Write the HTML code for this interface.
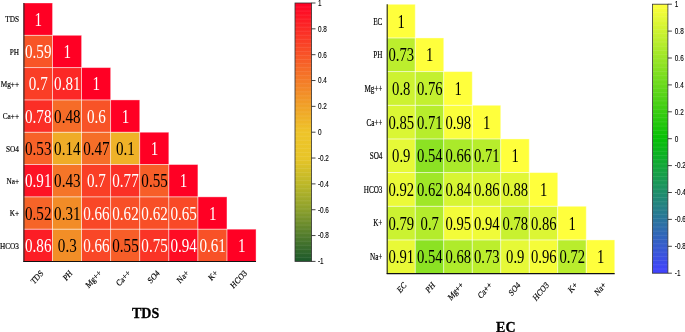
<!DOCTYPE html>
<html><head><meta charset="utf-8"><title>Correlation heatmaps</title>
<style>
html,body{margin:0;padding:0;background:#fff;}
body{width:685px;height:332px;overflow:hidden;}
svg{display:block;}
text{font-family:"Liberation Serif","Times New Roman",serif;}
text.a{font-family:"Liberation Sans",Arial,sans-serif;fill:#000;}
text.s{stroke:#000;stroke-width:0.18px;}
text.t{font-weight:bold;stroke:#000;stroke-width:0.3px;}
text.a{stroke:#000;stroke-width:0.12px;}
</style></head><body>
<svg width="685" height="332" viewBox="0 0 685 332">
<defs><linearGradient id="g0" x1="0" y1="0" x2="0" y2="1"><stop offset="0.000" stop-color="#ff0024"/><stop offset="0.250" stop-color="#f66828"/><stop offset="0.400" stop-color="#f0a127"/><stop offset="0.500" stop-color="#eec429"/><stop offset="0.600" stop-color="#e8c528"/><stop offset="0.700" stop-color="#bdb828"/><stop offset="0.800" stop-color="#8ca02c"/><stop offset="0.900" stop-color="#527c2c"/><stop offset="1.000" stop-color="#1b582a"/></linearGradient><linearGradient id="g1" x1="0" y1="0" x2="0" y2="1"><stop offset="0.000" stop-color="#ffff3c"/><stop offset="0.500" stop-color="#06c006"/><stop offset="1.000" stop-color="#4242ff"/></linearGradient></defs>
<rect width="685" height="332" fill="#fff"/>
<rect x="23.40" y="3.00" width="29.12" height="32.36" fill="#ff0024"/>
<rect x="23.40" y="35.31" width="29.12" height="32.36" fill="#f85527"/>
<rect x="52.47" y="35.31" width="29.12" height="32.36" fill="#ff0024"/>
<rect x="23.40" y="67.62" width="29.12" height="32.36" fill="#fa3e26"/>
<rect x="52.47" y="67.62" width="29.12" height="32.36" fill="#fc2826"/>
<rect x="81.55" y="67.62" width="29.12" height="32.36" fill="#ff0024"/>
<rect x="23.40" y="99.94" width="29.12" height="32.36" fill="#fb2e26"/>
<rect x="52.47" y="99.94" width="29.12" height="32.36" fill="#f66c28"/>
<rect x="81.55" y="99.94" width="29.12" height="32.36" fill="#f85327"/>
<rect x="110.62" y="99.94" width="29.12" height="32.36" fill="#ff0024"/>
<rect x="23.40" y="132.25" width="29.12" height="32.36" fill="#f76228"/>
<rect x="52.47" y="132.25" width="29.12" height="32.36" fill="#efac28"/>
<rect x="81.55" y="132.25" width="29.12" height="32.36" fill="#f56e28"/>
<rect x="110.62" y="132.25" width="29.12" height="32.36" fill="#efb228"/>
<rect x="139.70" y="132.25" width="29.12" height="32.36" fill="#ff0024"/>
<rect x="23.40" y="164.56" width="29.12" height="32.36" fill="#fd1325"/>
<rect x="52.47" y="164.56" width="29.12" height="32.36" fill="#f57528"/>
<rect x="81.55" y="164.56" width="29.12" height="32.36" fill="#fa3e26"/>
<rect x="110.62" y="164.56" width="29.12" height="32.36" fill="#fb3026"/>
<rect x="139.70" y="164.56" width="29.12" height="32.36" fill="#f75e28"/>
<rect x="168.78" y="164.56" width="29.12" height="32.36" fill="#ff0024"/>
<rect x="23.40" y="196.88" width="29.12" height="32.36" fill="#f66428"/>
<rect x="52.47" y="196.88" width="29.12" height="32.36" fill="#f28c27"/>
<rect x="81.55" y="196.88" width="29.12" height="32.36" fill="#f94727"/>
<rect x="110.62" y="196.88" width="29.12" height="32.36" fill="#f84f27"/>
<rect x="139.70" y="196.88" width="29.12" height="32.36" fill="#f84f27"/>
<rect x="168.78" y="196.88" width="29.12" height="32.36" fill="#f94927"/>
<rect x="197.85" y="196.88" width="29.12" height="32.36" fill="#ff0024"/>
<rect x="23.40" y="229.19" width="29.12" height="32.36" fill="#fc1d25"/>
<rect x="52.47" y="229.19" width="29.12" height="32.36" fill="#f28e27"/>
<rect x="81.55" y="229.19" width="29.12" height="32.36" fill="#f94727"/>
<rect x="110.62" y="229.19" width="29.12" height="32.36" fill="#f75e28"/>
<rect x="139.70" y="229.19" width="29.12" height="32.36" fill="#fa3426"/>
<rect x="168.78" y="229.19" width="29.12" height="32.36" fill="#fe0c24"/>
<rect x="197.85" y="229.19" width="29.12" height="32.36" fill="#f85127"/>
<rect x="226.93" y="229.19" width="29.12" height="32.36" fill="#ff0024"/>
<rect x="23.40" y="3.00" width="29.07" height="32.31" fill="none" stroke="#fff" stroke-opacity="0.42" stroke-width="0.85"/>
<rect x="23.40" y="35.31" width="29.07" height="32.31" fill="none" stroke="#fff" stroke-opacity="0.42" stroke-width="0.85"/>
<rect x="52.47" y="35.31" width="29.07" height="32.31" fill="none" stroke="#fff" stroke-opacity="0.42" stroke-width="0.85"/>
<rect x="23.40" y="67.62" width="29.07" height="32.31" fill="none" stroke="#fff" stroke-opacity="0.42" stroke-width="0.85"/>
<rect x="52.47" y="67.62" width="29.07" height="32.31" fill="none" stroke="#fff" stroke-opacity="0.42" stroke-width="0.85"/>
<rect x="81.55" y="67.62" width="29.07" height="32.31" fill="none" stroke="#fff" stroke-opacity="0.42" stroke-width="0.85"/>
<rect x="23.40" y="99.94" width="29.07" height="32.31" fill="none" stroke="#fff" stroke-opacity="0.42" stroke-width="0.85"/>
<rect x="52.47" y="99.94" width="29.07" height="32.31" fill="none" stroke="#fff" stroke-opacity="0.42" stroke-width="0.85"/>
<rect x="81.55" y="99.94" width="29.07" height="32.31" fill="none" stroke="#fff" stroke-opacity="0.42" stroke-width="0.85"/>
<rect x="110.62" y="99.94" width="29.07" height="32.31" fill="none" stroke="#fff" stroke-opacity="0.42" stroke-width="0.85"/>
<rect x="23.40" y="132.25" width="29.07" height="32.31" fill="none" stroke="#fff" stroke-opacity="0.42" stroke-width="0.85"/>
<rect x="52.47" y="132.25" width="29.07" height="32.31" fill="none" stroke="#fff" stroke-opacity="0.42" stroke-width="0.85"/>
<rect x="81.55" y="132.25" width="29.07" height="32.31" fill="none" stroke="#fff" stroke-opacity="0.42" stroke-width="0.85"/>
<rect x="110.62" y="132.25" width="29.07" height="32.31" fill="none" stroke="#fff" stroke-opacity="0.42" stroke-width="0.85"/>
<rect x="139.70" y="132.25" width="29.07" height="32.31" fill="none" stroke="#fff" stroke-opacity="0.42" stroke-width="0.85"/>
<rect x="23.40" y="164.56" width="29.07" height="32.31" fill="none" stroke="#fff" stroke-opacity="0.42" stroke-width="0.85"/>
<rect x="52.47" y="164.56" width="29.07" height="32.31" fill="none" stroke="#fff" stroke-opacity="0.42" stroke-width="0.85"/>
<rect x="81.55" y="164.56" width="29.07" height="32.31" fill="none" stroke="#fff" stroke-opacity="0.42" stroke-width="0.85"/>
<rect x="110.62" y="164.56" width="29.07" height="32.31" fill="none" stroke="#fff" stroke-opacity="0.42" stroke-width="0.85"/>
<rect x="139.70" y="164.56" width="29.07" height="32.31" fill="none" stroke="#fff" stroke-opacity="0.42" stroke-width="0.85"/>
<rect x="168.78" y="164.56" width="29.07" height="32.31" fill="none" stroke="#fff" stroke-opacity="0.42" stroke-width="0.85"/>
<rect x="23.40" y="196.88" width="29.07" height="32.31" fill="none" stroke="#fff" stroke-opacity="0.42" stroke-width="0.85"/>
<rect x="52.47" y="196.88" width="29.07" height="32.31" fill="none" stroke="#fff" stroke-opacity="0.42" stroke-width="0.85"/>
<rect x="81.55" y="196.88" width="29.07" height="32.31" fill="none" stroke="#fff" stroke-opacity="0.42" stroke-width="0.85"/>
<rect x="110.62" y="196.88" width="29.07" height="32.31" fill="none" stroke="#fff" stroke-opacity="0.42" stroke-width="0.85"/>
<rect x="139.70" y="196.88" width="29.07" height="32.31" fill="none" stroke="#fff" stroke-opacity="0.42" stroke-width="0.85"/>
<rect x="168.78" y="196.88" width="29.07" height="32.31" fill="none" stroke="#fff" stroke-opacity="0.42" stroke-width="0.85"/>
<rect x="197.85" y="196.88" width="29.07" height="32.31" fill="none" stroke="#fff" stroke-opacity="0.42" stroke-width="0.85"/>
<rect x="23.40" y="229.19" width="29.07" height="32.31" fill="none" stroke="#fff" stroke-opacity="0.42" stroke-width="0.85"/>
<rect x="52.47" y="229.19" width="29.07" height="32.31" fill="none" stroke="#fff" stroke-opacity="0.42" stroke-width="0.85"/>
<rect x="81.55" y="229.19" width="29.07" height="32.31" fill="none" stroke="#fff" stroke-opacity="0.42" stroke-width="0.85"/>
<rect x="110.62" y="229.19" width="29.07" height="32.31" fill="none" stroke="#fff" stroke-opacity="0.42" stroke-width="0.85"/>
<rect x="139.70" y="229.19" width="29.07" height="32.31" fill="none" stroke="#fff" stroke-opacity="0.42" stroke-width="0.85"/>
<rect x="168.78" y="229.19" width="29.07" height="32.31" fill="none" stroke="#fff" stroke-opacity="0.42" stroke-width="0.85"/>
<rect x="197.85" y="229.19" width="29.07" height="32.31" fill="none" stroke="#fff" stroke-opacity="0.42" stroke-width="0.85"/>
<rect x="226.93" y="229.19" width="29.07" height="32.31" fill="none" stroke="#fff" stroke-opacity="0.42" stroke-width="0.85"/>
<text class="n" transform="translate(38.24 19.56) scale(0.840 1)" font-size="18.00" fill="#fff" text-anchor="middle" y="6.08">1</text>
<text class="n" transform="translate(38.24 51.87) scale(0.840 1)" font-size="18.00" fill="#fff" text-anchor="middle" y="6.08">0.59</text>
<text class="n" transform="translate(67.31 51.87) scale(0.840 1)" font-size="18.00" fill="#fff" text-anchor="middle" y="6.08">1</text>
<text class="n" transform="translate(38.24 84.18) scale(0.840 1)" font-size="18.00" fill="#fff" text-anchor="middle" y="6.08">0.7</text>
<text class="n" transform="translate(67.31 84.18) scale(0.840 1)" font-size="18.00" fill="#fff" text-anchor="middle" y="6.08">0.81</text>
<text class="n" transform="translate(96.39 84.18) scale(0.840 1)" font-size="18.00" fill="#fff" text-anchor="middle" y="6.08">1</text>
<text class="n" transform="translate(38.24 116.49) scale(0.840 1)" font-size="18.00" fill="#fff" text-anchor="middle" y="6.08">0.78</text>
<text class="n" transform="translate(67.31 116.49) scale(0.840 1)" font-size="18.00" fill="#000" text-anchor="middle" y="6.08">0.48</text>
<text class="n" transform="translate(96.39 116.49) scale(0.840 1)" font-size="18.00" fill="#fff" text-anchor="middle" y="6.08">0.6</text>
<text class="n" transform="translate(125.46 116.49) scale(0.840 1)" font-size="18.00" fill="#fff" text-anchor="middle" y="6.08">1</text>
<text class="n" transform="translate(38.24 148.81) scale(0.840 1)" font-size="18.00" fill="#000" text-anchor="middle" y="6.08">0.53</text>
<text class="n" transform="translate(67.31 148.81) scale(0.840 1)" font-size="18.00" fill="#000" text-anchor="middle" y="6.08">0.14</text>
<text class="n" transform="translate(96.39 148.81) scale(0.840 1)" font-size="18.00" fill="#000" text-anchor="middle" y="6.08">0.47</text>
<text class="n" transform="translate(125.46 148.81) scale(0.840 1)" font-size="18.00" fill="#000" text-anchor="middle" y="6.08">0.1</text>
<text class="n" transform="translate(154.54 148.81) scale(0.840 1)" font-size="18.00" fill="#fff" text-anchor="middle" y="6.08">1</text>
<text class="n" transform="translate(38.24 181.12) scale(0.840 1)" font-size="18.00" fill="#fff" text-anchor="middle" y="6.08">0.91</text>
<text class="n" transform="translate(67.31 181.12) scale(0.840 1)" font-size="18.00" fill="#000" text-anchor="middle" y="6.08">0.43</text>
<text class="n" transform="translate(96.39 181.12) scale(0.840 1)" font-size="18.00" fill="#fff" text-anchor="middle" y="6.08">0.7</text>
<text class="n" transform="translate(125.46 181.12) scale(0.840 1)" font-size="18.00" fill="#fff" text-anchor="middle" y="6.08">0.77</text>
<text class="n" transform="translate(154.54 181.12) scale(0.840 1)" font-size="18.00" fill="#000" text-anchor="middle" y="6.08">0.55</text>
<text class="n" transform="translate(183.61 181.12) scale(0.840 1)" font-size="18.00" fill="#fff" text-anchor="middle" y="6.08">1</text>
<text class="n" transform="translate(38.24 213.43) scale(0.840 1)" font-size="18.00" fill="#000" text-anchor="middle" y="6.08">0.52</text>
<text class="n" transform="translate(67.31 213.43) scale(0.840 1)" font-size="18.00" fill="#000" text-anchor="middle" y="6.08">0.31</text>
<text class="n" transform="translate(96.39 213.43) scale(0.840 1)" font-size="18.00" fill="#fff" text-anchor="middle" y="6.08">0.66</text>
<text class="n" transform="translate(125.46 213.43) scale(0.840 1)" font-size="18.00" fill="#fff" text-anchor="middle" y="6.08">0.62</text>
<text class="n" transform="translate(154.54 213.43) scale(0.840 1)" font-size="18.00" fill="#fff" text-anchor="middle" y="6.08">0.62</text>
<text class="n" transform="translate(183.61 213.43) scale(0.840 1)" font-size="18.00" fill="#fff" text-anchor="middle" y="6.08">0.65</text>
<text class="n" transform="translate(212.69 213.43) scale(0.840 1)" font-size="18.00" fill="#fff" text-anchor="middle" y="6.08">1</text>
<text class="n" transform="translate(38.24 245.74) scale(0.840 1)" font-size="18.00" fill="#fff" text-anchor="middle" y="6.08">0.86</text>
<text class="n" transform="translate(67.31 245.74) scale(0.840 1)" font-size="18.00" fill="#000" text-anchor="middle" y="6.08">0.3</text>
<text class="n" transform="translate(96.39 245.74) scale(0.840 1)" font-size="18.00" fill="#fff" text-anchor="middle" y="6.08">0.66</text>
<text class="n" transform="translate(125.46 245.74) scale(0.840 1)" font-size="18.00" fill="#000" text-anchor="middle" y="6.08">0.55</text>
<text class="n" transform="translate(154.54 245.74) scale(0.840 1)" font-size="18.00" fill="#fff" text-anchor="middle" y="6.08">0.75</text>
<text class="n" transform="translate(183.61 245.74) scale(0.840 1)" font-size="18.00" fill="#fff" text-anchor="middle" y="6.08">0.94</text>
<text class="n" transform="translate(212.69 245.74) scale(0.840 1)" font-size="18.00" fill="#fff" text-anchor="middle" y="6.08">0.61</text>
<text class="n" transform="translate(241.76 245.74) scale(0.840 1)" font-size="18.00" fill="#fff" text-anchor="middle" y="6.08">1</text>
<line x1="23.90" y1="3.00" x2="23.90" y2="262.00" stroke="#222" stroke-width="1.1"/>
<line x1="23.40" y1="261.50" x2="256.00" y2="261.50" stroke="#111" stroke-width="1.1"/>
<text class="s" transform="translate(19.00 19.46) scale(0.810 1)" font-size="9.00" text-anchor="end" y="2.98">TDS</text>
<text class="s" transform="translate(19.00 51.77) scale(0.810 1)" font-size="9.00" text-anchor="end" y="2.98">PH</text>
<text class="s" transform="translate(19.00 84.08) scale(0.810 1)" font-size="9.00" text-anchor="end" y="2.98">Mg++</text>
<text class="s" transform="translate(19.00 116.39) scale(0.810 1)" font-size="9.00" text-anchor="end" y="2.98">Ca++</text>
<text class="s" transform="translate(19.00 148.71) scale(0.810 1)" font-size="9.00" text-anchor="end" y="2.98">SO4</text>
<text class="s" transform="translate(19.00 181.02) scale(0.810 1)" font-size="9.00" text-anchor="end" y="2.98">Na+</text>
<text class="s" transform="translate(19.00 213.33) scale(0.810 1)" font-size="9.00" text-anchor="end" y="2.98">K+</text>
<text class="s" transform="translate(19.00 245.64) scale(0.810 1)" font-size="9.00" text-anchor="end" y="2.98">HCO3</text>
<text class="s" transform="translate(43.84 273.70) scale(0.900 1) rotate(-45) scale(0.920 1)" font-size="9.00" text-anchor="end">TDS</text>
<text class="s" transform="translate(72.91 273.70) scale(0.900 1) rotate(-45) scale(0.920 1)" font-size="9.00" text-anchor="end">PH</text>
<text class="s" transform="translate(101.99 273.70) scale(0.900 1) rotate(-45) scale(0.920 1)" font-size="9.00" text-anchor="end">Mg++</text>
<text class="s" transform="translate(131.06 273.70) scale(0.900 1) rotate(-45) scale(0.920 1)" font-size="9.00" text-anchor="end">Ca++</text>
<text class="s" transform="translate(160.14 273.70) scale(0.900 1) rotate(-45) scale(0.920 1)" font-size="9.00" text-anchor="end">SO4</text>
<text class="s" transform="translate(189.21 273.70) scale(0.900 1) rotate(-45) scale(0.920 1)" font-size="9.00" text-anchor="end">Na+</text>
<text class="s" transform="translate(218.29 273.70) scale(0.900 1) rotate(-45) scale(0.920 1)" font-size="9.00" text-anchor="end">K+</text>
<text class="s" transform="translate(247.36 273.70) scale(0.900 1) rotate(-45) scale(0.920 1)" font-size="9.00" text-anchor="end">HCO3</text>
<rect x="295.00" y="3.00" width="16.60" height="258.40" fill="url(#g0)" stroke="#333" stroke-width="0.8"/>
<line x1="295.40" y1="7.04" x2="311.20" y2="7.04" stroke="#fff" stroke-opacity="0.13" stroke-width="0.7"/>
<line x1="295.40" y1="11.07" x2="311.20" y2="11.07" stroke="#fff" stroke-opacity="0.13" stroke-width="0.7"/>
<line x1="295.40" y1="15.11" x2="311.20" y2="15.11" stroke="#fff" stroke-opacity="0.13" stroke-width="0.7"/>
<line x1="295.40" y1="19.15" x2="311.20" y2="19.15" stroke="#fff" stroke-opacity="0.13" stroke-width="0.7"/>
<line x1="295.40" y1="23.19" x2="311.20" y2="23.19" stroke="#fff" stroke-opacity="0.13" stroke-width="0.7"/>
<line x1="295.40" y1="27.22" x2="311.20" y2="27.22" stroke="#fff" stroke-opacity="0.13" stroke-width="0.7"/>
<line x1="295.40" y1="31.26" x2="311.20" y2="31.26" stroke="#fff" stroke-opacity="0.13" stroke-width="0.7"/>
<line x1="295.40" y1="35.30" x2="311.20" y2="35.30" stroke="#fff" stroke-opacity="0.13" stroke-width="0.7"/>
<line x1="295.40" y1="39.34" x2="311.20" y2="39.34" stroke="#fff" stroke-opacity="0.13" stroke-width="0.7"/>
<line x1="295.40" y1="43.38" x2="311.20" y2="43.38" stroke="#fff" stroke-opacity="0.13" stroke-width="0.7"/>
<line x1="295.40" y1="47.41" x2="311.20" y2="47.41" stroke="#fff" stroke-opacity="0.13" stroke-width="0.7"/>
<line x1="295.40" y1="51.45" x2="311.20" y2="51.45" stroke="#fff" stroke-opacity="0.13" stroke-width="0.7"/>
<line x1="295.40" y1="55.49" x2="311.20" y2="55.49" stroke="#fff" stroke-opacity="0.13" stroke-width="0.7"/>
<line x1="295.40" y1="59.52" x2="311.20" y2="59.52" stroke="#fff" stroke-opacity="0.13" stroke-width="0.7"/>
<line x1="295.40" y1="63.56" x2="311.20" y2="63.56" stroke="#fff" stroke-opacity="0.13" stroke-width="0.7"/>
<line x1="295.40" y1="67.60" x2="311.20" y2="67.60" stroke="#fff" stroke-opacity="0.13" stroke-width="0.7"/>
<line x1="295.40" y1="71.64" x2="311.20" y2="71.64" stroke="#fff" stroke-opacity="0.13" stroke-width="0.7"/>
<line x1="295.40" y1="75.67" x2="311.20" y2="75.67" stroke="#fff" stroke-opacity="0.13" stroke-width="0.7"/>
<line x1="295.40" y1="79.71" x2="311.20" y2="79.71" stroke="#fff" stroke-opacity="0.13" stroke-width="0.7"/>
<line x1="295.40" y1="83.75" x2="311.20" y2="83.75" stroke="#fff" stroke-opacity="0.13" stroke-width="0.7"/>
<line x1="295.40" y1="87.79" x2="311.20" y2="87.79" stroke="#fff" stroke-opacity="0.13" stroke-width="0.7"/>
<line x1="295.40" y1="91.82" x2="311.20" y2="91.82" stroke="#fff" stroke-opacity="0.13" stroke-width="0.7"/>
<line x1="295.40" y1="95.86" x2="311.20" y2="95.86" stroke="#fff" stroke-opacity="0.13" stroke-width="0.7"/>
<line x1="295.40" y1="99.90" x2="311.20" y2="99.90" stroke="#fff" stroke-opacity="0.13" stroke-width="0.7"/>
<line x1="295.40" y1="103.94" x2="311.20" y2="103.94" stroke="#fff" stroke-opacity="0.13" stroke-width="0.7"/>
<line x1="295.40" y1="107.97" x2="311.20" y2="107.97" stroke="#fff" stroke-opacity="0.13" stroke-width="0.7"/>
<line x1="295.40" y1="112.01" x2="311.20" y2="112.01" stroke="#fff" stroke-opacity="0.13" stroke-width="0.7"/>
<line x1="295.40" y1="116.05" x2="311.20" y2="116.05" stroke="#fff" stroke-opacity="0.13" stroke-width="0.7"/>
<line x1="295.40" y1="120.09" x2="311.20" y2="120.09" stroke="#fff" stroke-opacity="0.13" stroke-width="0.7"/>
<line x1="295.40" y1="124.12" x2="311.20" y2="124.12" stroke="#fff" stroke-opacity="0.13" stroke-width="0.7"/>
<line x1="295.40" y1="128.16" x2="311.20" y2="128.16" stroke="#fff" stroke-opacity="0.13" stroke-width="0.7"/>
<line x1="295.40" y1="132.20" x2="311.20" y2="132.20" stroke="#fff" stroke-opacity="0.13" stroke-width="0.7"/>
<line x1="295.40" y1="136.24" x2="311.20" y2="136.24" stroke="#fff" stroke-opacity="0.13" stroke-width="0.7"/>
<line x1="295.40" y1="140.27" x2="311.20" y2="140.27" stroke="#fff" stroke-opacity="0.13" stroke-width="0.7"/>
<line x1="295.40" y1="144.31" x2="311.20" y2="144.31" stroke="#fff" stroke-opacity="0.13" stroke-width="0.7"/>
<line x1="295.40" y1="148.35" x2="311.20" y2="148.35" stroke="#fff" stroke-opacity="0.13" stroke-width="0.7"/>
<line x1="295.40" y1="152.39" x2="311.20" y2="152.39" stroke="#fff" stroke-opacity="0.13" stroke-width="0.7"/>
<line x1="295.40" y1="156.42" x2="311.20" y2="156.42" stroke="#fff" stroke-opacity="0.13" stroke-width="0.7"/>
<line x1="295.40" y1="160.46" x2="311.20" y2="160.46" stroke="#fff" stroke-opacity="0.13" stroke-width="0.7"/>
<line x1="295.40" y1="164.50" x2="311.20" y2="164.50" stroke="#fff" stroke-opacity="0.13" stroke-width="0.7"/>
<line x1="295.40" y1="168.54" x2="311.20" y2="168.54" stroke="#fff" stroke-opacity="0.13" stroke-width="0.7"/>
<line x1="295.40" y1="172.57" x2="311.20" y2="172.57" stroke="#fff" stroke-opacity="0.13" stroke-width="0.7"/>
<line x1="295.40" y1="176.61" x2="311.20" y2="176.61" stroke="#fff" stroke-opacity="0.13" stroke-width="0.7"/>
<line x1="295.40" y1="180.65" x2="311.20" y2="180.65" stroke="#fff" stroke-opacity="0.13" stroke-width="0.7"/>
<line x1="295.40" y1="184.69" x2="311.20" y2="184.69" stroke="#fff" stroke-opacity="0.13" stroke-width="0.7"/>
<line x1="295.40" y1="188.72" x2="311.20" y2="188.72" stroke="#fff" stroke-opacity="0.13" stroke-width="0.7"/>
<line x1="295.40" y1="192.76" x2="311.20" y2="192.76" stroke="#fff" stroke-opacity="0.13" stroke-width="0.7"/>
<line x1="295.40" y1="196.80" x2="311.20" y2="196.80" stroke="#fff" stroke-opacity="0.13" stroke-width="0.7"/>
<line x1="295.40" y1="200.84" x2="311.20" y2="200.84" stroke="#fff" stroke-opacity="0.13" stroke-width="0.7"/>
<line x1="295.40" y1="204.87" x2="311.20" y2="204.87" stroke="#fff" stroke-opacity="0.13" stroke-width="0.7"/>
<line x1="295.40" y1="208.91" x2="311.20" y2="208.91" stroke="#fff" stroke-opacity="0.13" stroke-width="0.7"/>
<line x1="295.40" y1="212.95" x2="311.20" y2="212.95" stroke="#fff" stroke-opacity="0.13" stroke-width="0.7"/>
<line x1="295.40" y1="216.99" x2="311.20" y2="216.99" stroke="#fff" stroke-opacity="0.13" stroke-width="0.7"/>
<line x1="295.40" y1="221.02" x2="311.20" y2="221.02" stroke="#fff" stroke-opacity="0.13" stroke-width="0.7"/>
<line x1="295.40" y1="225.06" x2="311.20" y2="225.06" stroke="#fff" stroke-opacity="0.13" stroke-width="0.7"/>
<line x1="295.40" y1="229.10" x2="311.20" y2="229.10" stroke="#fff" stroke-opacity="0.13" stroke-width="0.7"/>
<line x1="295.40" y1="233.14" x2="311.20" y2="233.14" stroke="#fff" stroke-opacity="0.13" stroke-width="0.7"/>
<line x1="295.40" y1="237.17" x2="311.20" y2="237.17" stroke="#fff" stroke-opacity="0.13" stroke-width="0.7"/>
<line x1="295.40" y1="241.21" x2="311.20" y2="241.21" stroke="#fff" stroke-opacity="0.13" stroke-width="0.7"/>
<line x1="295.40" y1="245.25" x2="311.20" y2="245.25" stroke="#fff" stroke-opacity="0.13" stroke-width="0.7"/>
<line x1="295.40" y1="249.29" x2="311.20" y2="249.29" stroke="#fff" stroke-opacity="0.13" stroke-width="0.7"/>
<line x1="295.40" y1="253.32" x2="311.20" y2="253.32" stroke="#fff" stroke-opacity="0.13" stroke-width="0.7"/>
<line x1="295.40" y1="257.36" x2="311.20" y2="257.36" stroke="#fff" stroke-opacity="0.13" stroke-width="0.7"/>
<line x1="311.60" y1="3.00" x2="315.50" y2="3.00" stroke="#222" stroke-width="0.85"/>
<text class="a" transform="translate(317.90 5.85) scale(0.78 1)" font-size="8.2">1</text>
<line x1="311.60" y1="28.84" x2="315.50" y2="28.84" stroke="#222" stroke-width="0.85"/>
<text class="a" transform="translate(317.90 31.69) scale(0.78 1)" font-size="8.2">0.8</text>
<line x1="311.60" y1="54.68" x2="315.50" y2="54.68" stroke="#222" stroke-width="0.85"/>
<text class="a" transform="translate(317.90 57.53) scale(0.78 1)" font-size="8.2">0.6</text>
<line x1="311.60" y1="80.52" x2="315.50" y2="80.52" stroke="#222" stroke-width="0.85"/>
<text class="a" transform="translate(317.90 83.37) scale(0.78 1)" font-size="8.2">0.4</text>
<line x1="311.60" y1="106.36" x2="315.50" y2="106.36" stroke="#222" stroke-width="0.85"/>
<text class="a" transform="translate(317.90 109.21) scale(0.78 1)" font-size="8.2">0.2</text>
<line x1="311.60" y1="132.20" x2="315.50" y2="132.20" stroke="#222" stroke-width="0.85"/>
<text class="a" transform="translate(317.90 135.05) scale(0.78 1)" font-size="8.2">0</text>
<line x1="311.60" y1="158.04" x2="315.50" y2="158.04" stroke="#222" stroke-width="0.85"/>
<text class="a" transform="translate(317.90 160.89) scale(0.78 1)" font-size="8.2">-0.2</text>
<line x1="311.60" y1="183.88" x2="315.50" y2="183.88" stroke="#222" stroke-width="0.85"/>
<text class="a" transform="translate(317.90 186.73) scale(0.78 1)" font-size="8.2">-0.4</text>
<line x1="311.60" y1="209.72" x2="315.50" y2="209.72" stroke="#222" stroke-width="0.85"/>
<text class="a" transform="translate(317.90 212.57) scale(0.78 1)" font-size="8.2">-0.6</text>
<line x1="311.60" y1="235.56" x2="315.50" y2="235.56" stroke="#222" stroke-width="0.85"/>
<text class="a" transform="translate(317.90 238.41) scale(0.78 1)" font-size="8.2">-0.8</text>
<line x1="311.60" y1="261.40" x2="315.50" y2="261.40" stroke="#222" stroke-width="0.85"/>
<text class="a" transform="translate(317.90 264.25) scale(0.78 1)" font-size="8.2">-1</text>
<text class="t" transform="translate(145.60 317.70) scale(0.970 1)" font-size="14.5" text-anchor="middle">TDS</text>
<rect x="386.70" y="4.30" width="28.55" height="33.71" fill="#ffff3c"/>
<rect x="386.70" y="37.96" width="28.55" height="33.71" fill="#bcee2d"/>
<rect x="415.20" y="37.96" width="28.55" height="33.71" fill="#ffff3c"/>
<rect x="386.70" y="71.62" width="28.55" height="33.71" fill="#cdf231"/>
<rect x="415.20" y="71.62" width="28.55" height="33.71" fill="#c3f02f"/>
<rect x="443.70" y="71.62" width="28.55" height="33.71" fill="#ffff3c"/>
<rect x="386.70" y="105.29" width="28.55" height="33.71" fill="#daf634"/>
<rect x="415.20" y="105.29" width="28.55" height="33.71" fill="#b7ed2c"/>
<rect x="443.70" y="105.29" width="28.55" height="33.71" fill="#fafe3b"/>
<rect x="472.20" y="105.29" width="28.55" height="33.71" fill="#ffff3c"/>
<rect x="386.70" y="138.95" width="28.55" height="33.71" fill="#e6f937"/>
<rect x="415.20" y="138.95" width="28.55" height="33.71" fill="#8ce223"/>
<rect x="443.70" y="138.95" width="28.55" height="33.71" fill="#aaea2a"/>
<rect x="472.20" y="138.95" width="28.55" height="33.71" fill="#b7ed2c"/>
<rect x="500.70" y="138.95" width="28.55" height="33.71" fill="#ffff3c"/>
<rect x="386.70" y="172.61" width="28.55" height="33.71" fill="#ebfa38"/>
<rect x="415.20" y="172.61" width="28.55" height="33.71" fill="#a0e727"/>
<rect x="443.70" y="172.61" width="28.55" height="33.71" fill="#d7f533"/>
<rect x="472.20" y="172.61" width="28.55" height="33.71" fill="#dcf634"/>
<rect x="500.70" y="172.61" width="28.55" height="33.71" fill="#e1f736"/>
<rect x="529.20" y="172.61" width="28.55" height="33.71" fill="#ffff3c"/>
<rect x="386.70" y="206.28" width="28.55" height="33.71" fill="#cbf231"/>
<rect x="415.20" y="206.28" width="28.55" height="33.71" fill="#b4ec2c"/>
<rect x="443.70" y="206.28" width="28.55" height="33.71" fill="#f3fc39"/>
<rect x="472.20" y="206.28" width="28.55" height="33.71" fill="#f0fb39"/>
<rect x="500.70" y="206.28" width="28.55" height="33.71" fill="#c8f130"/>
<rect x="529.20" y="206.28" width="28.55" height="33.71" fill="#dcf634"/>
<rect x="557.70" y="206.28" width="28.55" height="33.71" fill="#ffff3c"/>
<rect x="386.70" y="239.94" width="28.55" height="33.71" fill="#e9f937"/>
<rect x="415.20" y="239.94" width="28.55" height="33.71" fill="#8ce223"/>
<rect x="443.70" y="239.94" width="28.55" height="33.71" fill="#afeb2b"/>
<rect x="472.20" y="239.94" width="28.55" height="33.71" fill="#bcee2d"/>
<rect x="500.70" y="239.94" width="28.55" height="33.71" fill="#e6f937"/>
<rect x="529.20" y="239.94" width="28.55" height="33.71" fill="#f5fc3a"/>
<rect x="557.70" y="239.94" width="28.55" height="33.71" fill="#b9ed2d"/>
<rect x="586.20" y="239.94" width="28.55" height="33.71" fill="#ffff3c"/>
<rect x="386.70" y="4.30" width="28.50" height="33.66" fill="none" stroke="#fff" stroke-opacity="0.42" stroke-width="0.85"/>
<rect x="386.70" y="37.96" width="28.50" height="33.66" fill="none" stroke="#fff" stroke-opacity="0.42" stroke-width="0.85"/>
<rect x="415.20" y="37.96" width="28.50" height="33.66" fill="none" stroke="#fff" stroke-opacity="0.42" stroke-width="0.85"/>
<rect x="386.70" y="71.62" width="28.50" height="33.66" fill="none" stroke="#fff" stroke-opacity="0.42" stroke-width="0.85"/>
<rect x="415.20" y="71.62" width="28.50" height="33.66" fill="none" stroke="#fff" stroke-opacity="0.42" stroke-width="0.85"/>
<rect x="443.70" y="71.62" width="28.50" height="33.66" fill="none" stroke="#fff" stroke-opacity="0.42" stroke-width="0.85"/>
<rect x="386.70" y="105.29" width="28.50" height="33.66" fill="none" stroke="#fff" stroke-opacity="0.42" stroke-width="0.85"/>
<rect x="415.20" y="105.29" width="28.50" height="33.66" fill="none" stroke="#fff" stroke-opacity="0.42" stroke-width="0.85"/>
<rect x="443.70" y="105.29" width="28.50" height="33.66" fill="none" stroke="#fff" stroke-opacity="0.42" stroke-width="0.85"/>
<rect x="472.20" y="105.29" width="28.50" height="33.66" fill="none" stroke="#fff" stroke-opacity="0.42" stroke-width="0.85"/>
<rect x="386.70" y="138.95" width="28.50" height="33.66" fill="none" stroke="#fff" stroke-opacity="0.42" stroke-width="0.85"/>
<rect x="415.20" y="138.95" width="28.50" height="33.66" fill="none" stroke="#fff" stroke-opacity="0.42" stroke-width="0.85"/>
<rect x="443.70" y="138.95" width="28.50" height="33.66" fill="none" stroke="#fff" stroke-opacity="0.42" stroke-width="0.85"/>
<rect x="472.20" y="138.95" width="28.50" height="33.66" fill="none" stroke="#fff" stroke-opacity="0.42" stroke-width="0.85"/>
<rect x="500.70" y="138.95" width="28.50" height="33.66" fill="none" stroke="#fff" stroke-opacity="0.42" stroke-width="0.85"/>
<rect x="386.70" y="172.61" width="28.50" height="33.66" fill="none" stroke="#fff" stroke-opacity="0.42" stroke-width="0.85"/>
<rect x="415.20" y="172.61" width="28.50" height="33.66" fill="none" stroke="#fff" stroke-opacity="0.42" stroke-width="0.85"/>
<rect x="443.70" y="172.61" width="28.50" height="33.66" fill="none" stroke="#fff" stroke-opacity="0.42" stroke-width="0.85"/>
<rect x="472.20" y="172.61" width="28.50" height="33.66" fill="none" stroke="#fff" stroke-opacity="0.42" stroke-width="0.85"/>
<rect x="500.70" y="172.61" width="28.50" height="33.66" fill="none" stroke="#fff" stroke-opacity="0.42" stroke-width="0.85"/>
<rect x="529.20" y="172.61" width="28.50" height="33.66" fill="none" stroke="#fff" stroke-opacity="0.42" stroke-width="0.85"/>
<rect x="386.70" y="206.28" width="28.50" height="33.66" fill="none" stroke="#fff" stroke-opacity="0.42" stroke-width="0.85"/>
<rect x="415.20" y="206.28" width="28.50" height="33.66" fill="none" stroke="#fff" stroke-opacity="0.42" stroke-width="0.85"/>
<rect x="443.70" y="206.28" width="28.50" height="33.66" fill="none" stroke="#fff" stroke-opacity="0.42" stroke-width="0.85"/>
<rect x="472.20" y="206.28" width="28.50" height="33.66" fill="none" stroke="#fff" stroke-opacity="0.42" stroke-width="0.85"/>
<rect x="500.70" y="206.28" width="28.50" height="33.66" fill="none" stroke="#fff" stroke-opacity="0.42" stroke-width="0.85"/>
<rect x="529.20" y="206.28" width="28.50" height="33.66" fill="none" stroke="#fff" stroke-opacity="0.42" stroke-width="0.85"/>
<rect x="557.70" y="206.28" width="28.50" height="33.66" fill="none" stroke="#fff" stroke-opacity="0.42" stroke-width="0.85"/>
<rect x="386.70" y="239.94" width="28.50" height="33.66" fill="none" stroke="#fff" stroke-opacity="0.42" stroke-width="0.85"/>
<rect x="415.20" y="239.94" width="28.50" height="33.66" fill="none" stroke="#fff" stroke-opacity="0.42" stroke-width="0.85"/>
<rect x="443.70" y="239.94" width="28.50" height="33.66" fill="none" stroke="#fff" stroke-opacity="0.42" stroke-width="0.85"/>
<rect x="472.20" y="239.94" width="28.50" height="33.66" fill="none" stroke="#fff" stroke-opacity="0.42" stroke-width="0.85"/>
<rect x="500.70" y="239.94" width="28.50" height="33.66" fill="none" stroke="#fff" stroke-opacity="0.42" stroke-width="0.85"/>
<rect x="529.20" y="239.94" width="28.50" height="33.66" fill="none" stroke="#fff" stroke-opacity="0.42" stroke-width="0.85"/>
<rect x="557.70" y="239.94" width="28.50" height="33.66" fill="none" stroke="#fff" stroke-opacity="0.42" stroke-width="0.85"/>
<rect x="586.20" y="239.94" width="28.50" height="33.66" fill="none" stroke="#fff" stroke-opacity="0.42" stroke-width="0.85"/>
<text class="n" transform="translate(401.25 21.53) scale(0.800 1)" font-size="18.30" fill="#000" text-anchor="middle" y="6.19">1</text>
<text class="n" transform="translate(401.25 55.19) scale(0.800 1)" font-size="18.30" fill="#000" text-anchor="middle" y="6.19">0.73</text>
<text class="n" transform="translate(429.75 55.19) scale(0.800 1)" font-size="18.30" fill="#000" text-anchor="middle" y="6.19">1</text>
<text class="n" transform="translate(401.25 88.86) scale(0.800 1)" font-size="18.30" fill="#000" text-anchor="middle" y="6.19">0.8</text>
<text class="n" transform="translate(429.75 88.86) scale(0.800 1)" font-size="18.30" fill="#000" text-anchor="middle" y="6.19">0.76</text>
<text class="n" transform="translate(458.25 88.86) scale(0.800 1)" font-size="18.30" fill="#000" text-anchor="middle" y="6.19">1</text>
<text class="n" transform="translate(401.25 122.52) scale(0.800 1)" font-size="18.30" fill="#000" text-anchor="middle" y="6.19">0.85</text>
<text class="n" transform="translate(429.75 122.52) scale(0.800 1)" font-size="18.30" fill="#000" text-anchor="middle" y="6.19">0.71</text>
<text class="n" transform="translate(458.25 122.52) scale(0.800 1)" font-size="18.30" fill="#000" text-anchor="middle" y="6.19">0.98</text>
<text class="n" transform="translate(486.75 122.52) scale(0.800 1)" font-size="18.30" fill="#000" text-anchor="middle" y="6.19">1</text>
<text class="n" transform="translate(401.25 156.18) scale(0.800 1)" font-size="18.30" fill="#000" text-anchor="middle" y="6.19">0.9</text>
<text class="n" transform="translate(429.75 156.18) scale(0.800 1)" font-size="18.30" fill="#000" text-anchor="middle" y="6.19">0.54</text>
<text class="n" transform="translate(458.25 156.18) scale(0.800 1)" font-size="18.30" fill="#000" text-anchor="middle" y="6.19">0.66</text>
<text class="n" transform="translate(486.75 156.18) scale(0.800 1)" font-size="18.30" fill="#000" text-anchor="middle" y="6.19">0.71</text>
<text class="n" transform="translate(515.25 156.18) scale(0.800 1)" font-size="18.30" fill="#000" text-anchor="middle" y="6.19">1</text>
<text class="n" transform="translate(401.25 189.84) scale(0.800 1)" font-size="18.30" fill="#000" text-anchor="middle" y="6.19">0.92</text>
<text class="n" transform="translate(429.75 189.84) scale(0.800 1)" font-size="18.30" fill="#000" text-anchor="middle" y="6.19">0.62</text>
<text class="n" transform="translate(458.25 189.84) scale(0.800 1)" font-size="18.30" fill="#000" text-anchor="middle" y="6.19">0.84</text>
<text class="n" transform="translate(486.75 189.84) scale(0.800 1)" font-size="18.30" fill="#000" text-anchor="middle" y="6.19">0.86</text>
<text class="n" transform="translate(515.25 189.84) scale(0.800 1)" font-size="18.30" fill="#000" text-anchor="middle" y="6.19">0.88</text>
<text class="n" transform="translate(543.75 189.84) scale(0.800 1)" font-size="18.30" fill="#000" text-anchor="middle" y="6.19">1</text>
<text class="n" transform="translate(401.25 223.51) scale(0.800 1)" font-size="18.30" fill="#000" text-anchor="middle" y="6.19">0.79</text>
<text class="n" transform="translate(429.75 223.51) scale(0.800 1)" font-size="18.30" fill="#000" text-anchor="middle" y="6.19">0.7</text>
<text class="n" transform="translate(458.25 223.51) scale(0.800 1)" font-size="18.30" fill="#000" text-anchor="middle" y="6.19">0.95</text>
<text class="n" transform="translate(486.75 223.51) scale(0.800 1)" font-size="18.30" fill="#000" text-anchor="middle" y="6.19">0.94</text>
<text class="n" transform="translate(515.25 223.51) scale(0.800 1)" font-size="18.30" fill="#000" text-anchor="middle" y="6.19">0.78</text>
<text class="n" transform="translate(543.75 223.51) scale(0.800 1)" font-size="18.30" fill="#000" text-anchor="middle" y="6.19">0.86</text>
<text class="n" transform="translate(572.25 223.51) scale(0.800 1)" font-size="18.30" fill="#000" text-anchor="middle" y="6.19">1</text>
<text class="n" transform="translate(401.25 257.17) scale(0.800 1)" font-size="18.30" fill="#000" text-anchor="middle" y="6.19">0.91</text>
<text class="n" transform="translate(429.75 257.17) scale(0.800 1)" font-size="18.30" fill="#000" text-anchor="middle" y="6.19">0.54</text>
<text class="n" transform="translate(458.25 257.17) scale(0.800 1)" font-size="18.30" fill="#000" text-anchor="middle" y="6.19">0.68</text>
<text class="n" transform="translate(486.75 257.17) scale(0.800 1)" font-size="18.30" fill="#000" text-anchor="middle" y="6.19">0.73</text>
<text class="n" transform="translate(515.25 257.17) scale(0.800 1)" font-size="18.30" fill="#000" text-anchor="middle" y="6.19">0.9</text>
<text class="n" transform="translate(543.75 257.17) scale(0.800 1)" font-size="18.30" fill="#000" text-anchor="middle" y="6.19">0.96</text>
<text class="n" transform="translate(572.25 257.17) scale(0.800 1)" font-size="18.30" fill="#000" text-anchor="middle" y="6.19">0.72</text>
<text class="n" transform="translate(600.75 257.17) scale(0.800 1)" font-size="18.30" fill="#000" text-anchor="middle" y="6.19">1</text>
<line x1="387.20" y1="4.30" x2="387.20" y2="274.10" stroke="#222" stroke-width="1.1"/>
<line x1="386.70" y1="273.60" x2="614.70" y2="273.60" stroke="#111" stroke-width="1.1"/>
<text class="s" transform="translate(382.40 21.43) scale(0.770 1)" font-size="9.30" text-anchor="end" y="3.08">EC</text>
<text class="s" transform="translate(382.40 55.09) scale(0.770 1)" font-size="9.30" text-anchor="end" y="3.08">PH</text>
<text class="s" transform="translate(382.40 88.76) scale(0.770 1)" font-size="9.30" text-anchor="end" y="3.08">Mg++</text>
<text class="s" transform="translate(382.40 122.42) scale(0.770 1)" font-size="9.30" text-anchor="end" y="3.08">Ca++</text>
<text class="s" transform="translate(382.40 156.08) scale(0.770 1)" font-size="9.30" text-anchor="end" y="3.08">SO4</text>
<text class="s" transform="translate(382.40 189.74) scale(0.770 1)" font-size="9.30" text-anchor="end" y="3.08">HCO3</text>
<text class="s" transform="translate(382.40 223.41) scale(0.770 1)" font-size="9.30" text-anchor="end" y="3.08">K+</text>
<text class="s" transform="translate(382.40 257.07) scale(0.770 1)" font-size="9.30" text-anchor="end" y="3.08">Na+</text>
<text class="s" transform="translate(406.85 285.70) scale(0.848 1) rotate(-45) scale(0.920 1)" font-size="9.30" text-anchor="end">EC</text>
<text class="s" transform="translate(435.35 285.70) scale(0.848 1) rotate(-45) scale(0.920 1)" font-size="9.30" text-anchor="end">PH</text>
<text class="s" transform="translate(463.85 285.70) scale(0.848 1) rotate(-45) scale(0.920 1)" font-size="9.30" text-anchor="end">Mg++</text>
<text class="s" transform="translate(492.35 285.70) scale(0.848 1) rotate(-45) scale(0.920 1)" font-size="9.30" text-anchor="end">Ca++</text>
<text class="s" transform="translate(520.85 285.70) scale(0.848 1) rotate(-45) scale(0.920 1)" font-size="9.30" text-anchor="end">SO4</text>
<text class="s" transform="translate(549.35 285.70) scale(0.848 1) rotate(-45) scale(0.920 1)" font-size="9.30" text-anchor="end">HCO3</text>
<text class="s" transform="translate(577.85 285.70) scale(0.848 1) rotate(-45) scale(0.920 1)" font-size="9.30" text-anchor="end">K+</text>
<text class="s" transform="translate(606.35 285.70) scale(0.848 1) rotate(-45) scale(0.920 1)" font-size="9.30" text-anchor="end">Na+</text>
<rect x="652.60" y="4.20" width="15.30" height="269.00" fill="url(#g1)" stroke="#333" stroke-width="0.8"/>
<line x1="653.00" y1="8.40" x2="667.50" y2="8.40" stroke="#fff" stroke-opacity="0.13" stroke-width="0.7"/>
<line x1="653.00" y1="12.61" x2="667.50" y2="12.61" stroke="#fff" stroke-opacity="0.13" stroke-width="0.7"/>
<line x1="653.00" y1="16.81" x2="667.50" y2="16.81" stroke="#fff" stroke-opacity="0.13" stroke-width="0.7"/>
<line x1="653.00" y1="21.01" x2="667.50" y2="21.01" stroke="#fff" stroke-opacity="0.13" stroke-width="0.7"/>
<line x1="653.00" y1="25.22" x2="667.50" y2="25.22" stroke="#fff" stroke-opacity="0.13" stroke-width="0.7"/>
<line x1="653.00" y1="29.42" x2="667.50" y2="29.42" stroke="#fff" stroke-opacity="0.13" stroke-width="0.7"/>
<line x1="653.00" y1="33.62" x2="667.50" y2="33.62" stroke="#fff" stroke-opacity="0.13" stroke-width="0.7"/>
<line x1="653.00" y1="37.83" x2="667.50" y2="37.83" stroke="#fff" stroke-opacity="0.13" stroke-width="0.7"/>
<line x1="653.00" y1="42.03" x2="667.50" y2="42.03" stroke="#fff" stroke-opacity="0.13" stroke-width="0.7"/>
<line x1="653.00" y1="46.23" x2="667.50" y2="46.23" stroke="#fff" stroke-opacity="0.13" stroke-width="0.7"/>
<line x1="653.00" y1="50.43" x2="667.50" y2="50.43" stroke="#fff" stroke-opacity="0.13" stroke-width="0.7"/>
<line x1="653.00" y1="54.64" x2="667.50" y2="54.64" stroke="#fff" stroke-opacity="0.13" stroke-width="0.7"/>
<line x1="653.00" y1="58.84" x2="667.50" y2="58.84" stroke="#fff" stroke-opacity="0.13" stroke-width="0.7"/>
<line x1="653.00" y1="63.04" x2="667.50" y2="63.04" stroke="#fff" stroke-opacity="0.13" stroke-width="0.7"/>
<line x1="653.00" y1="67.25" x2="667.50" y2="67.25" stroke="#fff" stroke-opacity="0.13" stroke-width="0.7"/>
<line x1="653.00" y1="71.45" x2="667.50" y2="71.45" stroke="#fff" stroke-opacity="0.13" stroke-width="0.7"/>
<line x1="653.00" y1="75.65" x2="667.50" y2="75.65" stroke="#fff" stroke-opacity="0.13" stroke-width="0.7"/>
<line x1="653.00" y1="79.86" x2="667.50" y2="79.86" stroke="#fff" stroke-opacity="0.13" stroke-width="0.7"/>
<line x1="653.00" y1="84.06" x2="667.50" y2="84.06" stroke="#fff" stroke-opacity="0.13" stroke-width="0.7"/>
<line x1="653.00" y1="88.26" x2="667.50" y2="88.26" stroke="#fff" stroke-opacity="0.13" stroke-width="0.7"/>
<line x1="653.00" y1="92.47" x2="667.50" y2="92.47" stroke="#fff" stroke-opacity="0.13" stroke-width="0.7"/>
<line x1="653.00" y1="96.67" x2="667.50" y2="96.67" stroke="#fff" stroke-opacity="0.13" stroke-width="0.7"/>
<line x1="653.00" y1="100.87" x2="667.50" y2="100.87" stroke="#fff" stroke-opacity="0.13" stroke-width="0.7"/>
<line x1="653.00" y1="105.08" x2="667.50" y2="105.08" stroke="#fff" stroke-opacity="0.13" stroke-width="0.7"/>
<line x1="653.00" y1="109.28" x2="667.50" y2="109.28" stroke="#fff" stroke-opacity="0.13" stroke-width="0.7"/>
<line x1="653.00" y1="113.48" x2="667.50" y2="113.48" stroke="#fff" stroke-opacity="0.13" stroke-width="0.7"/>
<line x1="653.00" y1="117.68" x2="667.50" y2="117.68" stroke="#fff" stroke-opacity="0.13" stroke-width="0.7"/>
<line x1="653.00" y1="121.89" x2="667.50" y2="121.89" stroke="#fff" stroke-opacity="0.13" stroke-width="0.7"/>
<line x1="653.00" y1="126.09" x2="667.50" y2="126.09" stroke="#fff" stroke-opacity="0.13" stroke-width="0.7"/>
<line x1="653.00" y1="130.29" x2="667.50" y2="130.29" stroke="#fff" stroke-opacity="0.13" stroke-width="0.7"/>
<line x1="653.00" y1="134.50" x2="667.50" y2="134.50" stroke="#fff" stroke-opacity="0.13" stroke-width="0.7"/>
<line x1="653.00" y1="138.70" x2="667.50" y2="138.70" stroke="#fff" stroke-opacity="0.13" stroke-width="0.7"/>
<line x1="653.00" y1="142.90" x2="667.50" y2="142.90" stroke="#fff" stroke-opacity="0.13" stroke-width="0.7"/>
<line x1="653.00" y1="147.11" x2="667.50" y2="147.11" stroke="#fff" stroke-opacity="0.13" stroke-width="0.7"/>
<line x1="653.00" y1="151.31" x2="667.50" y2="151.31" stroke="#fff" stroke-opacity="0.13" stroke-width="0.7"/>
<line x1="653.00" y1="155.51" x2="667.50" y2="155.51" stroke="#fff" stroke-opacity="0.13" stroke-width="0.7"/>
<line x1="653.00" y1="159.72" x2="667.50" y2="159.72" stroke="#fff" stroke-opacity="0.13" stroke-width="0.7"/>
<line x1="653.00" y1="163.92" x2="667.50" y2="163.92" stroke="#fff" stroke-opacity="0.13" stroke-width="0.7"/>
<line x1="653.00" y1="168.12" x2="667.50" y2="168.12" stroke="#fff" stroke-opacity="0.13" stroke-width="0.7"/>
<line x1="653.00" y1="172.32" x2="667.50" y2="172.32" stroke="#fff" stroke-opacity="0.13" stroke-width="0.7"/>
<line x1="653.00" y1="176.53" x2="667.50" y2="176.53" stroke="#fff" stroke-opacity="0.13" stroke-width="0.7"/>
<line x1="653.00" y1="180.73" x2="667.50" y2="180.73" stroke="#fff" stroke-opacity="0.13" stroke-width="0.7"/>
<line x1="653.00" y1="184.93" x2="667.50" y2="184.93" stroke="#fff" stroke-opacity="0.13" stroke-width="0.7"/>
<line x1="653.00" y1="189.14" x2="667.50" y2="189.14" stroke="#fff" stroke-opacity="0.13" stroke-width="0.7"/>
<line x1="653.00" y1="193.34" x2="667.50" y2="193.34" stroke="#fff" stroke-opacity="0.13" stroke-width="0.7"/>
<line x1="653.00" y1="197.54" x2="667.50" y2="197.54" stroke="#fff" stroke-opacity="0.13" stroke-width="0.7"/>
<line x1="653.00" y1="201.75" x2="667.50" y2="201.75" stroke="#fff" stroke-opacity="0.13" stroke-width="0.7"/>
<line x1="653.00" y1="205.95" x2="667.50" y2="205.95" stroke="#fff" stroke-opacity="0.13" stroke-width="0.7"/>
<line x1="653.00" y1="210.15" x2="667.50" y2="210.15" stroke="#fff" stroke-opacity="0.13" stroke-width="0.7"/>
<line x1="653.00" y1="214.36" x2="667.50" y2="214.36" stroke="#fff" stroke-opacity="0.13" stroke-width="0.7"/>
<line x1="653.00" y1="218.56" x2="667.50" y2="218.56" stroke="#fff" stroke-opacity="0.13" stroke-width="0.7"/>
<line x1="653.00" y1="222.76" x2="667.50" y2="222.76" stroke="#fff" stroke-opacity="0.13" stroke-width="0.7"/>
<line x1="653.00" y1="226.97" x2="667.50" y2="226.97" stroke="#fff" stroke-opacity="0.13" stroke-width="0.7"/>
<line x1="653.00" y1="231.17" x2="667.50" y2="231.17" stroke="#fff" stroke-opacity="0.13" stroke-width="0.7"/>
<line x1="653.00" y1="235.37" x2="667.50" y2="235.37" stroke="#fff" stroke-opacity="0.13" stroke-width="0.7"/>
<line x1="653.00" y1="239.57" x2="667.50" y2="239.57" stroke="#fff" stroke-opacity="0.13" stroke-width="0.7"/>
<line x1="653.00" y1="243.78" x2="667.50" y2="243.78" stroke="#fff" stroke-opacity="0.13" stroke-width="0.7"/>
<line x1="653.00" y1="247.98" x2="667.50" y2="247.98" stroke="#fff" stroke-opacity="0.13" stroke-width="0.7"/>
<line x1="653.00" y1="252.18" x2="667.50" y2="252.18" stroke="#fff" stroke-opacity="0.13" stroke-width="0.7"/>
<line x1="653.00" y1="256.39" x2="667.50" y2="256.39" stroke="#fff" stroke-opacity="0.13" stroke-width="0.7"/>
<line x1="653.00" y1="260.59" x2="667.50" y2="260.59" stroke="#fff" stroke-opacity="0.13" stroke-width="0.7"/>
<line x1="653.00" y1="264.79" x2="667.50" y2="264.79" stroke="#fff" stroke-opacity="0.13" stroke-width="0.7"/>
<line x1="653.00" y1="269.00" x2="667.50" y2="269.00" stroke="#fff" stroke-opacity="0.13" stroke-width="0.7"/>
<line x1="667.90" y1="4.20" x2="671.90" y2="4.20" stroke="#222" stroke-width="0.85"/>
<text class="a" transform="translate(674.80 7.05) scale(0.78 1)" font-size="8.2">1</text>
<line x1="667.90" y1="31.10" x2="671.90" y2="31.10" stroke="#222" stroke-width="0.85"/>
<text class="a" transform="translate(674.80 33.95) scale(0.78 1)" font-size="8.2">0.8</text>
<line x1="667.90" y1="58.00" x2="671.90" y2="58.00" stroke="#222" stroke-width="0.85"/>
<text class="a" transform="translate(674.80 60.85) scale(0.78 1)" font-size="8.2">0.6</text>
<line x1="667.90" y1="84.90" x2="671.90" y2="84.90" stroke="#222" stroke-width="0.85"/>
<text class="a" transform="translate(674.80 87.75) scale(0.78 1)" font-size="8.2">0.4</text>
<line x1="667.90" y1="111.80" x2="671.90" y2="111.80" stroke="#222" stroke-width="0.85"/>
<text class="a" transform="translate(674.80 114.65) scale(0.78 1)" font-size="8.2">0.2</text>
<line x1="667.90" y1="138.70" x2="671.90" y2="138.70" stroke="#222" stroke-width="0.85"/>
<text class="a" transform="translate(674.80 141.55) scale(0.78 1)" font-size="8.2">0</text>
<line x1="667.90" y1="165.60" x2="671.90" y2="165.60" stroke="#222" stroke-width="0.85"/>
<text class="a" transform="translate(674.80 168.45) scale(0.78 1)" font-size="8.2">-0.2</text>
<line x1="667.90" y1="192.50" x2="671.90" y2="192.50" stroke="#222" stroke-width="0.85"/>
<text class="a" transform="translate(674.80 195.35) scale(0.78 1)" font-size="8.2">-0.4</text>
<line x1="667.90" y1="219.40" x2="671.90" y2="219.40" stroke="#222" stroke-width="0.85"/>
<text class="a" transform="translate(674.80 222.25) scale(0.78 1)" font-size="8.2">-0.6</text>
<line x1="667.90" y1="246.30" x2="671.90" y2="246.30" stroke="#222" stroke-width="0.85"/>
<text class="a" transform="translate(674.80 249.15) scale(0.78 1)" font-size="8.2">-0.8</text>
<line x1="667.90" y1="273.20" x2="671.90" y2="273.20" stroke="#222" stroke-width="0.85"/>
<text class="a" transform="translate(674.80 276.05) scale(0.78 1)" font-size="8.2">-1</text>
<text class="t" transform="translate(505.80 331.90) scale(0.970 1)" font-size="14.5" text-anchor="middle">EC</text>
</svg>
</body></html>
